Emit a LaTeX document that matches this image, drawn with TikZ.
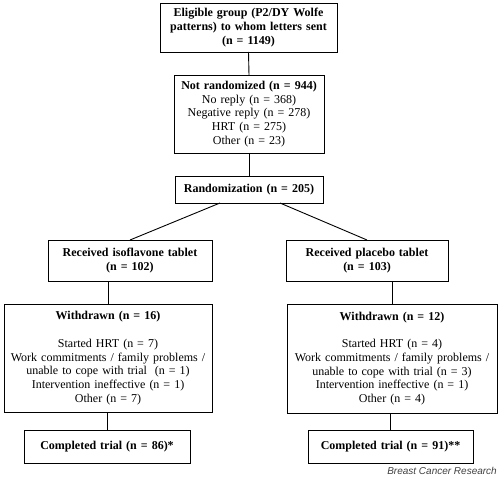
\documentclass[tikz,border=0pt]{standalone}
\usepackage{fontspec}
\setmainfont{Liberation Serif}
\newfontfamily\journalfont{Liberation Sans}
\usepackage{tikz}
\usetikzlibrary{calc}
\tikzset{flowbox/.style={draw, line width=0.9pt, inner sep=0pt, outer sep=0pt, align=center, font=\fontsize{12}{13.7}\selectfont}}
\tikzset{link/.style={line width=0.9pt}}
\newcommand{\flowbox}[6]{ \node[flowbox, text width=#4pt, minimum height=#5pt] (#1) at ( #2 , #3 ) {#6};}

\begin{document}
\begin{tikzpicture}[x=1pt,y=-1pt]
\useasboundingbox (0,0) rectangle (500,478);
% top of the chart
\flowbox{elig}{248.5}{27.5}{177}{49}{\textbf{Eligible group (P2/DY Wolfe}\\\textbf{patterns) to whom letters sent}\\\textbf{(n = 1149)}}
\flowbox{notrand}{249}{114}{150}{78}{\textbf{Not randomized (n = 944)}\\No reply (n = 368)\\Negative reply (n = 278)\\HRT (n = 275)\\Other (n = 23)}
\flowbox{rand}{249}{189.5}{148}{27}{\textbf{Randomization (n = 205)}}
% the two arms
\flowbox{iso}{130}{260.5}{164}{41}{\textbf{Received isoflavone tablet}\\\textbf{(n = 102)}}
\flowbox{plac}{367}{260.5}{162}{41}{\textbf{Received placebo tablet}\\\textbf{(n = 103)}}
% withdrawals
\flowbox{wdl}{108}{358}{208}{108}{\textbf{Withdrawn (n = 16)}\\[14pt]Started HRT (n = 7)\\Work commitments / family problems /\\unable to cope with trial~ (n = 1)\\Intervention ineffective (n = 1)\\Other (n = 7)}
\flowbox{wdr}{392}{358.5}{210}{109}{\textbf{Withdrawn (n = 12)}\\[14pt]Started HRT (n = 4)\\Work commitments / family problems /\\unable to cope with trial (n = 3)\\Intervention ineffective (n = 1)\\Other (n = 4)}
% end of trial
\flowbox{compl}{107}{446.5}{166}{33}{\textbf{Completed trial (n = 86)*}}
\flowbox{compr}{390.5}{446.5}{165}{33}{\textbf{Completed trial (n = 91)**}}
% connectors
\draw[link] (elig.south) -- (notrand.north);
\draw[link] (notrand.south) -- (rand.north);
\draw[link] ($(rand.south)+(-29,0)$) -- (iso.north);
\draw[link] ($(rand.south)+(31,0)$) -- (plac.north);
\draw[link] (iso.south -| wdl.north) -- (wdl.north);
\draw[link] (plac.south -| wdr.north) -- (wdr.north);
\draw[link] (wdl.south -| compl.north) -- (compl.north);
\draw[link] (wdr.south -| compr.north) -- (compr.north);
% journal name
\node[font=\journalfont\itshape\fontsize{10}{12}\selectfont, text=black!75, anchor=east, inner sep=0pt] (journal) at (497,471) {Breast Cancer Research};
\end{tikzpicture}
\end{document}
